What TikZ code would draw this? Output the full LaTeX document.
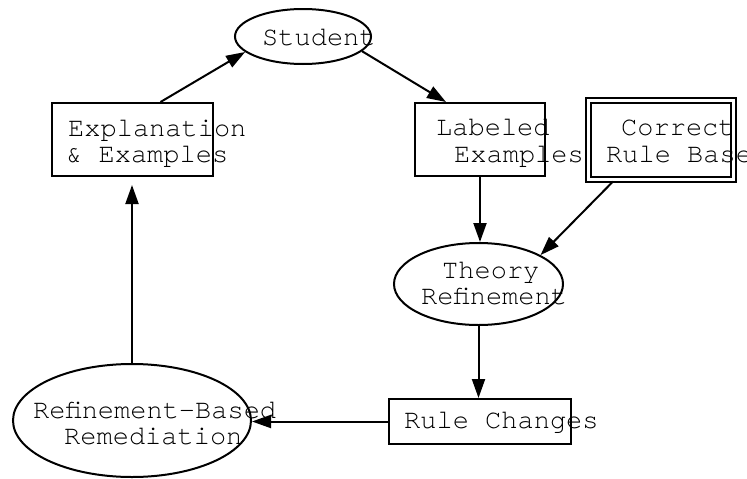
\documentclass[tikz,border=0pt]{standalone}
\usepackage{fontspec}
\newfontfamily\courier{texgyrecursor-regular.otf}
\usetikzlibrary{shapes.geometric,arrows.meta}

\begin{document}
\begin{tikzpicture}[x=1pt,y=-1pt,
  box/.style={draw, line width=2pt, rectangle, inner sep=0pt},
  oval/.style={draw, line width=2pt, ellipse, inner sep=0pt},
  txt/.style={anchor=base west, inner sep=0pt, font=\fontsize{27}{27}\selectfont\courier},
  flow/.style={line width=2pt, -{Triangle[length=19pt,width=13pt]}}]

\useasboundingbox (0,0) rectangle (747,479);

% shapes
\node[oval, minimum width=136pt, minimum height=55pt] (stud) at (303,36.5) {};
\node[box, minimum width=161pt, minimum height=73pt] (expl) at (132.5,139.5) {};
\node[box, minimum width=130pt, minimum height=73pt] (lab) at (480,139.5) {};
\node[box, double, double distance=3pt, minimum width=145pt, minimum height=79pt] (crb) at (661,140) {};
\node[oval, minimum width=169pt, minimum height=82pt] (theo) at (478.5,284) {};
\node[box, minimum width=182pt, minimum height=45pt] (rule) at (480,421.5) {};
\node[oval, minimum width=238pt, minimum height=113pt] (remed) at (132,420.5) {};

% labels
\node[txt] (tStud) at (262,45) {Student};
\node[txt] (tExpl1) at (68,136) {Explanation};
\node[txt] (tExpl2) at (66,162) {\& Examples};
\node[txt] (tLab1) at (436,135) {Labeled};
\node[txt] (tLab2) at (454,162) {Examples};
\node[txt] (tCrb1) at (621,135) {Correct};
\node[txt] (tCrb2) at (606,162) {Rule Base};
\node[txt] (tTheo1) at (442,278) {Theory};
\node[txt] (tTheo2) at (421,304) {Reﬁnement};
\node[txt] (tRule) at (404,428) {Rule Changes};
\node[txt] (tRem1) at (33,418) {Reﬁnement-Based};
\node[txt] (tRem2) at (64,444) {Remediation};

% connectors
\draw[flow] ([xshift=28pt]expl.north) -- (stud.195);
\draw[flow] (stud.-14) -- ([xshift=-34pt]lab.north);
\draw[flow] (lab.south) -- (lab.south |- theo.north);
\draw[flow] ([xshift=-48pt,yshift=-1pt]crb.south) -- (theo.25);
\draw[flow] (theo.south) -- (theo.south |- rule.north);
\draw[flow] (rule.west) -- (remed.east |- rule.west);
\draw[flow] (remed.north) -- ([yshift=-8pt]remed.north |- expl.south);
\end{tikzpicture}
\end{document}
